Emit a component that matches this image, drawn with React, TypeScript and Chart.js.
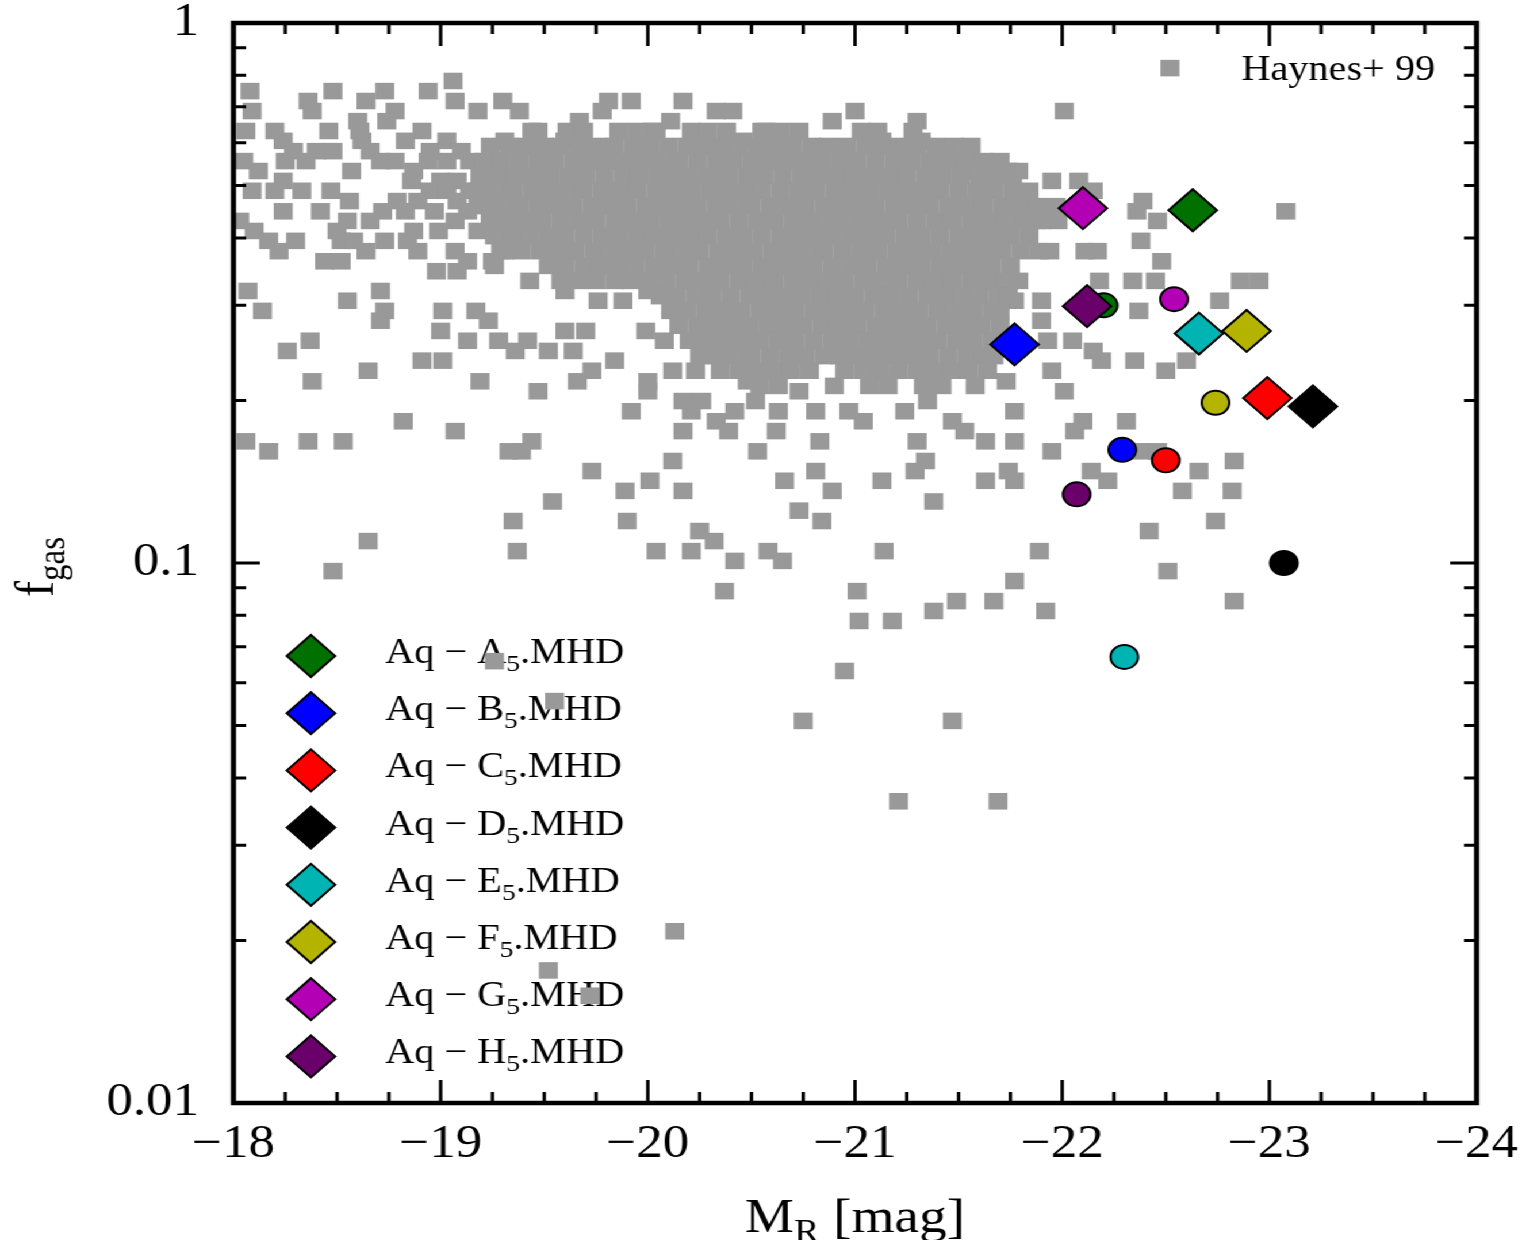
import React, { useEffect, useRef } from 'react';
import { Chart, registerables } from 'chart.js';

Chart.register(...registerables);

// The reference figure is horizontally stretched; we render at natural
// proportions and stretch the whole canvas by this factor.
const STRETCH = 1.15;
const CW = 1336;
const CH = 1240;
const SERIF = "'Liberation Serif', 'Times New Roman', serif";

const xTickValues = [-18, -19, -20, -21, -22, -23, -24];
const yTickValues = [0.01, 0.1, 1];

const haloNames = ['A', 'B', 'C', 'D', 'E', 'F', 'G', 'H'];
const haloColors = ['#007000', '#0000ff', '#ff0000', '#000000', '#00b4b4', '#b4b400', '#b400b4', '#6a006a'];
// Aq-X5.MHD (diamonds)
const mhdMR = [-22.63, -21.77, -22.99, -23.21, -22.66, -22.89, -22.10, -22.12];
const mhdFgas = [0.450, 0.254, 0.202, 0.195, 0.266, 0.269, 0.454, 0.299];
// companion runs (circles)
const altMR = [-22.20, -22.29, -22.50, -23.07, -22.30, -22.74, -22.54, -22.07];
const altFgas = [0.300, 0.162, 0.155, 0.100, 0.067, 0.198, 0.308, 0.134];

// Haynes+ 99 sample: rows of [f_gas, M_R values]
const haynesRows: [number, number[]][] = [
  [0.825, [-22.52]],
  [0.781, [-19.06]],
  [0.748, [-18.08, -18.48, -18.73, -18.94]],
  [0.717, [-18.36, -18.64, -19.07, -19.30, -19.81, -19.92, -20.17]],
  [0.687, [-18.09, -18.38, -18.78, -19.18, -19.38, -19.78, -20.33, -20.41, -21.00, -22.01]],
  [0.658, [-18.60, -18.74, -19.67, -20.11, -20.89, -21.30]],
  [0.631, [-18.06, -18.20, -18.46, -18.61, -18.91, -19.47, -20.02, -20.57, -20.73]],
  [0.631, [-19.44, -19.61, -19.69, -19.86, -19.95, -20.04, -20.21, -20.29, -20.38, -20.55, -20.64, -21.03, -21.11, -21.28]],
  [0.605, [-18.24, -18.62, -18.83, -19.03, -19.31, -19.60, -20.46, -20.63, -21.08, -21.13, -21.32]],
  [0.592, [-19.24, -19.33, -19.41, -19.50, -19.58, -19.67, -19.76, -19.84, -19.93, -20.01, -20.10, -20.19, -20.27, -20.36, -20.44, -20.53, -20.62, -20.70, -20.79, -20.87, -20.96, -21.05, -21.13, -21.22, -21.30, -21.39, -21.48, -21.56]],
  [0.579, [-18.29, -18.40, -18.48, -18.66, -18.95, -19.10, -20.82, -21.43]],
  [0.555, [-18.05, -18.25, -18.35, -18.71, -18.78, -18.94, -19.03, -19.14, -19.29, -20.97]],
  [0.555, [-19.21, -19.29, -19.38, -19.47, -19.55, -19.64, -19.72, -19.81, -19.90, -19.98, -20.07, -20.15, -20.24, -20.33, -20.41, -20.50, -20.58, -20.67, -20.76, -20.84, -20.93, -21.01, -21.10, -21.19, -21.27, -21.36, -21.44, -21.53, -21.62, -21.70]],
  [0.532, [-18.12, -18.57, -18.87, -21.53, -21.74, -21.79]],
  [0.521, [-19.19, -19.27, -19.36, -19.45, -19.53, -19.62, -19.70, -19.79, -19.88, -19.96, -20.05, -20.13, -20.22, -20.31, -20.39, -20.48, -20.56, -20.65, -20.74, -20.82, -20.91, -20.99, -21.08, -21.17, -21.25, -21.34, -21.42, -21.51, -21.60, -21.68, -21.76]],
  [0.510, [-18.24, -18.86, -19.00, -19.08, -21.95, -22.08]],
  [0.489, [-18.09, -18.20, -18.33, -18.47, -18.95, -19.03, -19.14, -22.15]],
  [0.489, [-19.18, -19.26, -19.35, -19.44, -19.52, -19.61, -19.69, -19.78, -19.87, -19.95, -20.04, -20.12, -20.21, -20.30, -20.38, -20.47, -20.55, -20.64, -20.73, -20.81, -20.90, -20.98, -21.07, -21.16, -21.24, -21.33, -21.41, -21.50, -21.59, -21.67, -21.76, -21.84]],
  [0.468, [-18.56, -18.79, -18.89, -19.08, -19.18, -22.39]],
  [0.458, [-19.21, -19.30, -19.38, -19.47, -19.56, -19.64, -19.73, -19.81, -19.90, -19.99, -20.07, -20.16, -20.24, -20.33, -20.42, -20.50, -20.59, -20.67, -20.76, -20.85, -20.93, -21.02, -21.10, -21.19, -21.28, -21.36, -21.45, -21.53, -21.62, -21.71, -21.79, -21.88, -21.97]],
  [0.448, [-18.24, -18.42, -18.72, -18.83, -18.97, -19.13, -22.36, -23.08]],
  [0.430, [-18.03, -18.55, -18.66, -19.07, -19.24, -21.88, -22.46]],
  [0.430, [-19.24, -19.32, -19.41, -19.49, -19.58, -19.67, -19.75, -19.84, -19.92, -20.01, -20.10, -20.18, -20.27, -20.35, -20.44, -20.53, -20.61, -20.70, -20.78, -20.87, -20.96, -21.04, -21.13, -21.21, -21.30, -21.39, -21.47, -21.56, -21.64, -21.73, -21.82, -21.90, -21.98]],
  [0.412, [-18.10, -18.50, -18.87, -18.99, -19.18]],
  [0.403, [-19.26, -19.35, -19.43, -19.52, -19.60, -19.69, -19.78, -19.86, -19.95, -20.03, -20.12, -20.21, -20.29, -20.38, -20.46, -20.55, -20.64, -20.72, -20.81, -20.89, -20.98, -21.07, -21.15, -21.24, -21.32, -21.41, -21.50, -21.58, -21.67, -21.75, -21.84]],
  [0.395, [-18.17, -18.30, -18.52, -18.58, -18.73, -18.84, -22.38]],
  [0.378, [-18.22, -18.64, -18.89, -19.07, -19.29, -22.11, -22.17]],
  [0.378, [-19.31, -19.39, -19.48, -19.56, -19.65, -19.74, -19.82, -19.91, -19.99, -20.08, -20.17, -20.25, -20.34, -20.42, -20.51, -20.60, -20.68, -20.77, -20.85, -20.94, -21.03, -21.11, -21.20, -21.28, -21.37, -21.46, -21.54, -21.63, -21.71, -21.80, -21.89, -21.94]],
  [0.362, [-18.44, -18.52, -19.13, -19.25, -22.48]],
  [0.355, [-19.26, -19.52, -19.60, -19.69, -19.77, -19.86, -19.94, -20.03, -20.12, -20.20, -20.29, -20.37, -20.46, -20.55, -20.63, -20.72, -20.80, -20.89, -20.98, -21.06, -21.15, -21.23, -21.32, -21.41, -21.49, -21.58, -21.66, -21.75]],
  [0.347, [-18.98, -19.08]],
  [0.333, [-19.43, -22.18, -22.34, -22.45, -22.86, -22.95]],
  [0.333, [-19.58, -19.66, -19.75, -19.84, -19.92, -20.01, -20.09, -20.18, -20.27, -20.35, -20.44, -20.52, -20.61, -20.70, -20.78, -20.87, -20.95, -21.04, -21.13, -21.21, -21.30, -21.38, -21.47, -21.56, -21.64, -21.73, -21.79]],
  [0.319, [-18.07, -18.71, -19.60, -20.00]],
  [0.312, [-20.06, -20.14, -20.23, -20.31, -20.40, -20.49, -20.57, -20.66, -20.74, -20.83, -20.92, -21.00, -21.09, -21.17, -21.26, -21.35, -21.43, -21.52, -21.60, -21.69, -21.74]],
  [0.306, [-18.55, -19.76, -19.88, -21.77, -21.90, -22.76]],
  [0.293, [-18.14, -18.73, -19.01, -19.17, -22.37]],
  [0.293, [-20.11, -20.19, -20.28, -20.37, -20.45, -20.54, -20.62, -20.71, -20.80, -20.88, -20.97, -21.05, -21.14, -21.23, -21.31, -21.40, -21.48, -21.57, -21.66, -21.70]],
  [0.281, [-18.71, -19.23, -21.90]],
  [0.275, [-20.15, -20.24, -20.32, -20.41, -20.49, -20.58, -20.67, -20.75, -20.84, -20.92, -21.01, -21.10, -21.18, -21.27, -21.35, -21.44, -21.53, -21.61, -21.70]],
  [0.269, [-19.00, -19.60, -19.70, -19.99]],
  [0.258, [-18.37, -19.13, -19.28, -19.42, -20.08, -20.23, -21.93, -22.05]],
  [0.258, [-20.20, -20.28, -20.37, -20.46, -20.54, -20.63, -20.71, -20.80, -20.89, -20.97, -21.06, -21.14, -21.23, -21.32, -21.40, -21.49, -21.57, -21.66]],
  [0.247, [-18.26, -19.36, -19.52, -19.64, -22.15]],
  [0.2416, [-20.25, -20.33, -20.42, -20.50, -20.59, -20.68, -20.76, -20.85, -20.93, -21.02, -21.11, -21.19, -21.28, -21.36, -21.45, -21.54, -21.62, -21.67]],
  [0.237, [-18.91, -19.01, -19.84, -22.19, -22.35, -22.60]],
  [0.227, [-18.65, -19.73, -20.12, -20.23, -20.61, -21.95, -22.50]],
  [0.227, [-20.35, -20.44, -20.52, -20.61, -20.69, -20.78, -20.95, -21.04, -21.12, -21.21, -21.30, -21.38, -21.47, -21.55, -21.64]],
  [0.217, [-18.38, -19.19, -19.66, -20.00, -20.48, -21.73]],
  [0.2128, [-20.54, -20.63, -20.90, -21.07, -21.16, -21.33, -21.42, -21.58]],
  [0.208, [-19.47, -20.00, -20.73, -22.01]],
  [0.1995, [-20.17, -20.26, -20.52, -21.35]],
  [0.191, [-19.92, -20.21, -20.42, -20.63, -20.81, -20.97, -21.24, -21.77]],
  [0.183, [-18.82, -20.33, -21.04, -21.47, -22.10, -22.31]],
  [0.1755, [-19.07, -20.17, -20.39, -20.62, -21.53, -22.06]],
  [0.168, [-18.06, -18.36, -18.53, -19.44, -20.83, -21.30, -21.63, -21.77]],
  [0.161, [-18.17, -19.33, -19.39, -20.53, -21.95, -22.38, -22.46]],
  [0.1545, [-20.12, -21.34, -22.83]],
  [0.148, [-19.73, -20.81, -21.29, -21.74, -22.14, -22.66]],
  [0.142, [-20.01, -20.66, -21.13, -21.63, -21.77, -22.22]],
  [0.136, [-19.89, -20.17, -20.89, -22.58, -22.82]],
  [0.130, [-19.54, -21.38]],
  [0.125, [-20.73]],
  [0.1196, [-19.35, -19.90, -20.84, -22.74]],
  [0.1146, [-20.25, -22.42]],
  [0.1098, [-18.65, -20.32]],
  [0.1052, [-19.37, -20.04, -20.21, -20.58, -21.14, -21.89]],
  [0.1009, [-20.42, -20.65]],
  [0.0966, [-18.48, -22.51]],
  [0.0926, [-21.77]],
  [0.0887, [-20.37, -21.01]],
  [0.0850, [-21.49, -21.67, -22.83]],
  [0.0815, [-21.38, -21.92]],
  [0.0781, [-21.02, -21.18]],
  [0.0658, [-19.26]],
  [0.0631, [-20.95]],
  [0.0555, [-19.55]],
  [0.0510, [-20.75, -21.47]],
  [0.0362, [-21.21, -21.69]],
  [0.0208, [-20.13]],
  [0.0176, [-19.52]],
  [0.0158, [-19.72]],
];

type Part = { t: string; size: number; dy: number };

function drawParts(ctx: CanvasRenderingContext2D, parts: Part[], x: number, y: number, measureOnly = false) {
  let cx = x;
  for (const p of parts) {
    ctx.font = `${p.size}px ${SERIF}`;
    if (!measureOnly) ctx.fillText(p.t, cx, y + p.dy);
    cx += ctx.measureText(p.t).width;
  }
  return cx - x;
}

function drawDiamond(ctx: CanvasRenderingContext2D, x: number, y: number, r: number, fill: string) {
  ctx.beginPath();
  ctx.moveTo(x - r, y);
  ctx.lineTo(x, y - r);
  ctx.lineTo(x + r, y);
  ctx.lineTo(x, y + r);
  ctx.closePath();
  ctx.fillStyle = fill;
  ctx.fill();
  ctx.lineWidth = 2;
  ctx.strokeStyle = '#000';
  ctx.stroke();
}

export default function App() {
  const ref = useRef<HTMLCanvasElement>(null);

  useEffect(() => {
    const canvas = ref.current;
    if (!canvas) return;

    const haynesData = haynesRows.flatMap(([f, ms]) => ms.map((m) => ({ x: m, y: f })));
    const mhdData = mhdMR.map((x, i) => ({ x, y: mhdFgas[i] }));
    const altData = altMR.map((x, i) => ({ x, y: altFgas[i] }));

    const legendPlugin = {
      id: 'legendUnder',
      beforeDatasetsDraw(chart: any) {
        const ctx: CanvasRenderingContext2D = chart.ctx;
        ctx.save();
        const lx = 270.4;
        const y0 = 656;
        const dy = 57.2;
        const tx = 335;
        haloNames.forEach((n, i) => {
          const y = y0 + i * dy;
          drawDiamond(ctx, lx, y, 21, haloColors[i]);
          ctx.fillStyle = '#000';
          ctx.textAlign = 'left';
          ctx.textBaseline = 'alphabetic';
          drawParts(ctx, [
            { t: 'Aq \u2212 ' + n, size: 35, dy: 0 },
            { t: '5', size: 24, dy: 8 },
            { t: '.MHD', size: 35, dy: 0 },
          ], tx, y + 7);
        });
        ctx.restore();
      },
    };

    const framePlugin = {
      id: 'frameTicks',
      afterDatasetsDraw(chart: any) {
        const ctx: CanvasRenderingContext2D = chart.ctx;
        const { left, right, top, bottom } = chart.chartArea;
        const xs = chart.scales.x;
        const ys = chart.scales.y;
        ctx.save();
        ctx.strokeStyle = '#000';
        ctx.lineWidth = 3;
        // x ticks (quarter magnitudes)
        for (let q = -96; q <= -72; q++) {
          const v = q / 4;
          const px = xs.getPixelForValue(v);
          if (px <= left + 1 || px >= right - 1) continue;
          const len = q % 4 === 0 ? 23 : 11;
          ctx.beginPath();
          ctx.moveTo(px, bottom);
          ctx.lineTo(px, bottom - len);
          ctx.moveTo(px, top);
          ctx.lineTo(px, top + len);
          ctx.stroke();
        }
        // y ticks (log)
        for (const dec of [0.01, 0.1]) {
          for (let k = 1; k <= 9; k++) {
            const v = k * dec;
            const py = ys.getPixelForValue(v);
            if (py >= bottom - 1 || py <= top + 1) continue;
            const len = k === 1 ? 23 : 11;
            ctx.beginPath();
            ctx.moveTo(left, py);
            ctx.lineTo(left + len, py);
            ctx.moveTo(right, py);
            ctx.lineTo(right - len, py);
            ctx.stroke();
          }
        }
        // frame
        ctx.lineWidth = 4.5;
        ctx.strokeRect(left, top, right - left, bottom - top);

        // label inside plot
        ctx.fillStyle = '#000';
        ctx.font = `35px ${SERIF}`;
        ctx.textAlign = 'right';
        ctx.textBaseline = 'alphabetic';
        ctx.fillText('Haynes+ 99', 1248, 80);

        // x-axis title
        ctx.textAlign = 'left';
        const xParts: Part[] = [
          { t: 'M', size: 48, dy: 0 },
          { t: 'R', size: 33, dy: 10 },
          { t: ' [mag]', size: 48, dy: 0 },
        ];
        const w = drawParts(ctx, xParts, 0, 0, true);
        drawParts(ctx, xParts, (left + right) / 2 - w / 2, 1232);

        // y-axis title (rotated)
        ctx.translate(46, 597);
        ctx.rotate(-Math.PI / 2);
        drawParts(ctx, [
          { t: 'f', size: 48, dy: 0 },
          { t: 'gas', size: 33, dy: 10 },
        ], 0, 0);
        ctx.restore();
      },
    };

    const tickFont = { family: SERIF, size: 46 };

    const chart = new Chart(canvas, {
      type: 'scatter',
      data: {
        datasets: [
          {
            label: 'MHD',
            data: mhdData,
            order: 0,
            pointStyle: 'rectRot',
            pointRadius: 21,
            pointBackgroundColor: haloColors,
            pointBorderColor: '#000',
            pointBorderWidth: 2,
            clip: false,
          } as any,
          {
            label: 'companion',
            data: altData,
            order: 1,
            pointStyle: 'circle',
            pointRadius: 12,
            pointBackgroundColor: haloColors,
            pointBorderColor: '#000',
            pointBorderWidth: 2,
            clip: false,
          } as any,
          {
            label: 'Haynes+ 99',
            data: haynesData,
            order: 2,
            pointStyle: 'rect',
            pointRadius: 11.7,
            pointBackgroundColor: '#999999',
            pointBorderWidth: 0,
            clip: 0,
          } as any,
        ],
      },
      options: {
        animation: false,
        responsive: false,
        devicePixelRatio: 1,
        events: [],
        layout: { padding: { left: 0, right: 52, top: 22, bottom: 0 } },
        plugins: { legend: { display: false }, tooltip: { enabled: false } },
        scales: {
          x: {
            type: 'linear',
            position: 'bottom',
            min: -24,
            max: -18,
            reverse: true,
            grid: { display: false, drawTicks: false },
            border: { display: false },
            afterBuildTicks: (s: any) => {
              s.ticks = xTickValues.map((value) => ({ value }));
            },
            afterFit: (s: any) => {
              s.height = CH - 1103;
              s.paddingLeft = 0;
              s.paddingRight = 0;
            },
            ticks: {
              autoSkip: false,
              maxRotation: 0,
              padding: 14,
              color: '#000',
              font: tickFont,
              callback: (v: any) => '\u2212' + Math.abs(Number(v)),
            },
          },
          y: {
            type: 'logarithmic',
            position: 'left',
            min: 0.01,
            max: 1,
            grid: { display: false, drawTicks: false },
            border: { display: false },
            afterBuildTicks: (s: any) => {
              s.ticks = yTickValues.map((value) => ({ value }));
            },
            afterFit: (s: any) => {
              s.width = 203;
              s.paddingTop = 0;
              s.paddingBottom = 0;
            },
            ticks: {
              autoSkip: false,
              padding: 30,
              color: '#000',
              font: tickFont,
              callback: (v: any) => String(Number(v)),
            },
          },
        },
      } as any,
      plugins: [legendPlugin, framePlugin],
    });

    return () => chart.destroy();
  }, []);

  return (
    <div
      style={{
        position: 'absolute',
        left: 0,
        top: 0,
        width: CW,
        height: CH,
        transform: `scaleX(${STRETCH})`,
        transformOrigin: '0 0',
        background: '#fff',
      }}
    >
      <canvas ref={ref} width={CW} height={CH} style={{ display: 'block', width: CW, height: CH }} />
    </div>
  );
}
